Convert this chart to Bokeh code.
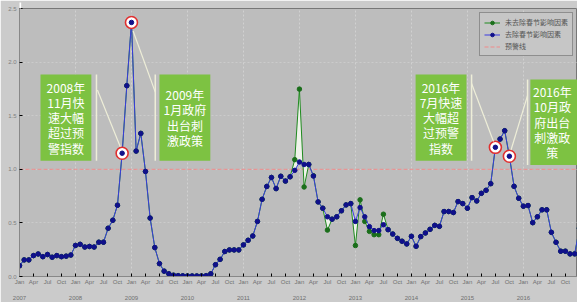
import numpy as np
from bokeh.plotting import figure
from bokeh.models import (ColumnDataSource, FixedTicker, LinearAxis,
                          Legend, LegendItem, Range1d, PrintfTickFormatter)
from bokeh.core.properties import value
from bokeh.embed import file_html
from bokeh.resources import INLINE

# ---------------- data ----------------
month_tick_labels = ["Jan", "Apr", "Jul", "Oct"]
year_labels = ["2007", "2008", "2009", "2010", "2011", "2012", "2013", "2014", "2015", "2016"]
y_ticks = [0.0, 0.5, 1.0, 1.5, 2.0, 2.5]

# 去除春节影响因素 (monthly, Jan 2007 ...)
blue = [
    0.10, 0.155, 0.155, 0.195, 0.21, 0.185, 0.205, 0.18, 0.195, 0.185, 0.19, 0.20,
    0.29, 0.30, 0.275, 0.28, 0.275, 0.32, 0.32, 0.45, 0.525, 0.665, 1.15, 1.78,
    2.37, 1.17, 1.335, 0.98, 0.545, 0.27, 0.12, 0.05, 0.025, 0.012, 0.008, 0.006,
    0.005, 0.005, 0.005, 0.005, 0.008, 0.025, 0.11, 0.16, 0.233, 0.248, 0.248, 0.248,
    0.295, 0.338, 0.378, 0.514, 0.72, 0.84, 0.924, 0.82, 0.935, 0.89, 0.93, 0.99,
    1.068, 1.045, 1.045, 0.937, 0.696, 0.637, 0.557, 0.535, 0.557, 0.613, 0.668, 0.68,
    0.514, 0.643, 0.557, 0.465, 0.428, 0.428, 0.483, 0.437, 0.396, 0.356, 0.329, 0.304,
    0.375, 0.282, 0.372, 0.406, 0.44, 0.477, 0.468, 0.606, 0.606, 0.597, 0.699, 0.68,
    0.637, 0.736, 0.705, 0.776, 0.804, 0.866, 1.205, 1.282, 1.36, 1.122, 0.841, 0.73,
    0.656, 0.662, 0.502, 0.557, 0.622, 0.622, 0.412, 0.319, 0.236, 0.236, 0.211, 0.211,
    0.45,
]
# 未去除春节影响因素
green = [
    0.10, 0.155, 0.155, 0.195, 0.21, 0.185, 0.205, 0.18, 0.195, 0.185, 0.19, 0.20,
    0.29, 0.30, 0.275, 0.28, 0.275, 0.32, 0.32, 0.45, 0.525, 0.665, 1.15, 1.78,
    2.37, 1.17, 1.335, 0.98, 0.545, 0.27, 0.12, 0.05, 0.025, 0.012, 0.008, 0.006,
    0.005, 0.005, 0.005, 0.005, 0.008, 0.025, 0.11, 0.16, 0.233, 0.248, 0.248, 0.248,
    0.295, 0.338, 0.378, 0.514, 0.72, 0.84, 0.924, 0.82, 0.935, 0.89, 0.93, 1.09,
    1.748, 0.835, 1.045, 0.94, 0.696, 0.637, 0.433, 0.535, 0.557, 0.613, 0.668, 0.68,
    0.289, 0.715, 0.514, 0.421, 0.39, 0.39, 0.581, 0.437, 0.396, 0.356, 0.329, 0.304,
    0.375, 0.282, 0.372, 0.406, 0.44, 0.477, 0.468, 0.606, 0.606, 0.597, 0.699, 0.68,
    0.637, 0.736, 0.705, 0.776, 0.804, 0.866, 1.205, 1.282, 1.36, 1.122, 0.841, 0.73,
    0.656, 0.662, 0.502, 0.557, 0.622, 0.622, 0.412, 0.319, 0.236, 0.236, 0.211, 0.211,
    0.45,
]
warning_level = 1.0
highlight_months = [22, 24, 102, 105]

callout_texts = [
    "2008年\n11月快\n速大幅\n超过预\n警指数",
    "2009年\n1月政府\n出台刺\n激政策",
    "2016年\n7月快速\n大幅超\n过预警\n指数",
    "2016年\n10月政\n府出台\n刺激政\n策",
]

# ---------------- layout / styles (positions in data units) ----------------
callout_boxes = [  # left, right, bottom, top
    (4.5, 15.4, 1.08, 1.884),
    (30.0, 40.9, 1.08, 1.884),
    (84.9, 95.8, 1.08, 1.884),
    (109.5, 122.0, 1.04, 1.838),
]
callout_text_x = [9.95, 35.45, 90.35, 114.2]
callout_vlines = [16.5, 29.1, 96.9, 108.9]
callout_diags = [  # x0, y0, x1, y1
    (16.7, 1.74, 21.6, 1.21),
    (29.1, 1.72, 24.35, 2.29),
    (96.9, 1.80, 101.6, 1.26),
    (108.9, 1.69, 105.35, 1.18),
]

months = np.arange(len(blue))
src = ColumnDataSource(dict(x=months, blue=blue, green=green))

p = figure(width=577, height=302, output_backend="svg", toolbar_location=None,
           x_range=Range1d(0, 119.6), y_range=Range1d(0, 2.5),
           min_border_left=19, min_border_right=0, min_border_top=0, min_border_bottom=0,
           background_fill_color="#bdbdbd", border_fill_color="#cbcbcb",
           outline_line_color="#777777", title=" ")
p.title.text_font_size = "6px"
p.title.background_fill_color = "white"
p.title.border_line_color = None
p.title.standoff = 0
p.title.offset = 0

# grid
p.xgrid.ticker = FixedTicker(ticks=[12 * i for i in range(len(year_labels))])
p.xgrid.grid_line_color = "#e6e6e6"
p.xgrid.grid_line_alpha = 0.5
p.xgrid.grid_line_dash = "2 2"
p.ygrid.ticker = FixedTicker(ticks=y_ticks)
p.ygrid.grid_line_color = "#e6e6e6"
p.ygrid.grid_line_alpha = 0.35
p.ygrid.grid_line_dash = "2 2"

# y axis
p.yaxis.ticker = FixedTicker(ticks=y_ticks)
p.yaxis.formatter = PrintfTickFormatter(format="%.1f")
p.yaxis.major_label_text_font_size = "6px"
p.yaxis.major_label_text_color = "#808080"
p.yaxis.major_label_standoff = 3
p.yaxis.major_tick_out = 0
p.yaxis.major_tick_in = 3
p.yaxis.minor_tick_line_color = None
p.yaxis.axis_line_color = "#888888"
p.yaxis.axis_label_standoff = 0

# month axis
month_ticks = list(range(0, len(blue), 3))
p.xaxis.ticker = FixedTicker(ticks=month_ticks)
p.xaxis.major_label_overrides = {t: month_tick_labels[(t // 3) % 4] for t in month_ticks}
p.xaxis.major_label_text_font_size = "6px"
p.xaxis.major_label_text_color = "#707070"
p.xaxis.major_label_standoff = 2
p.xaxis.major_tick_out = 0
p.xaxis.major_tick_in = 3
p.xaxis.minor_tick_line_color = None
p.xaxis.axis_line_color = "#888888"
p.xaxis.axis_label_standoff = 0

# year axis
year_ticks = [12 * i for i in range(len(year_labels))]
yax = LinearAxis(ticker=FixedTicker(ticks=year_ticks),
                 major_label_overrides={t: year_labels[i] for i, t in enumerate(year_ticks)})
yax.major_label_text_font_size = "6px"
yax.major_label_text_color = "#707070"
yax.major_label_standoff = 2
yax.major_tick_line_color = None
yax.minor_tick_line_color = None
yax.axis_line_color = None
yax.axis_label_standoff = 0
p.add_layout(yax, "below")

# warning line
warn = p.line(months, [warning_level] * len(months), line_color="#f08a8a",
              line_dash="4 2", line_width=1)

# fill between series
p.varea(x="x", y1="blue", y2="green", source=src, fill_color="#f4f8ee", fill_alpha=0.9)

# green series
gl = p.line("x", "green", source=src, line_color="#1f8a1f", line_width=1)
gs = p.scatter("x", "green", source=src, size=4.5, fill_color="#1a6e1a", line_color="#1a6e1a")

# blue series
bl = p.line("x", "blue", source=src, line_color="#3a3ae0", line_width=1)
hx = [int(m) for m in highlight_months]
p.scatter(hx, [blue[m] for m in hx], size=12, fill_color="white",
          line_color="#e03030", line_width=1.6)
bs = p.scatter("x", "blue", source=src, size=4.5, fill_color="#10108a", line_color="#10108a")

# callouts
p.quad(left=[b[0] for b in callout_boxes], right=[b[1] for b in callout_boxes],
       bottom=[b[2] for b in callout_boxes], top=[b[3] for b in callout_boxes],
       fill_color="#7dc242", line_color=None)
p.text(x=callout_text_x, y=[(b[2] + b[3]) / 2 for b in callout_boxes], text=callout_texts,
       text_color="white", text_font=value("Noto Sans CJK SC"),
       text_font_size="12px", text_align="center", text_baseline="middle",
       text_line_height=0.9)

vb = [b[2] for b in callout_boxes]
vt = [b[3] for b in callout_boxes]
p.segment(x0=callout_vlines, y0=vb, x1=callout_vlines, y1=vt,
          line_color="#eeeed8", line_width=1.5)
p.segment(x0=[d[0] for d in callout_diags], y0=[d[1] for d in callout_diags],
          x1=[d[2] for d in callout_diags], y1=[d[3] for d in callout_diags],
          line_color="#eeeed8", line_width=1.2)

# legend
legend = Legend(items=[
    LegendItem(label="未去除春节影响因素", renderers=[gl, gs]),
    LegendItem(label="去除春节影响因素", renderers=[bl, bs]),
    LegendItem(label="预警线", renderers=[warn]),
], location="top_right")
legend.label_text_font = "Noto Sans CJK SC"
legend.label_text_font_size = "7px"
legend.label_text_color = "#555555"
legend.label_height = 9
legend.glyph_height = 9
legend.glyph_width = 16
legend.spacing = 2
legend.padding = 4
legend.margin = 4
legend.background_fill_color = "#c6c6c6"
legend.background_fill_alpha = 1
legend.border_line_color = "#555555"
p.add_layout(legend)

open("out.html", "w").write(file_html(p, INLINE))
